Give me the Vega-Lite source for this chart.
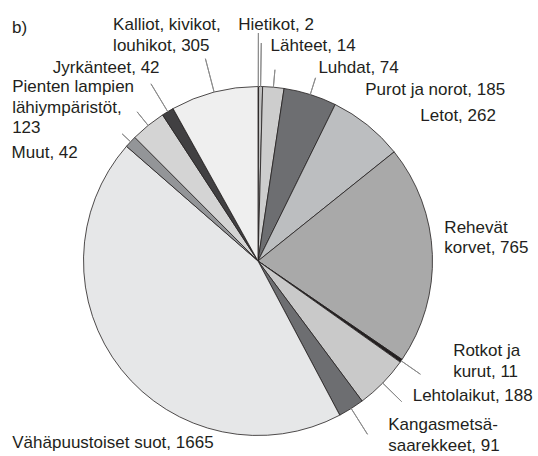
{
  "$schema": "https://vega.github.io/schema/vega-lite/v6.json",
  "width": 516,
  "height": 390,
  "autosize": {"type": "none"},
  "padding": {"left": 0, "top": 66, "right": 22, "bottom": 0},
  "background": "white",
  "title": {"text": "b)", "anchor": "start", "frame": "group", "offset": -21, "dx": 12, "fontSize": 17, "fontWeight": "normal", "font": "Liberation Sans", "color": "#231f20"},
  "config": {"view": {"stroke": null}},
  "data": {"values": [
    {"category": "Hietikot", "value": 2, "label": "Hietikot, 2"},
    {"category": "Lähteet", "value": 14, "label": "Lähteet, 14"},
    {"category": "Luhdat", "value": 74, "label": "Luhdat, 74"},
    {"category": "Purot ja norot", "value": 185, "label": "Purot ja norot, 185"},
    {"category": "Letot", "value": 262, "label": "Letot, 262"},
    {"category": "Rehevät korvet", "value": 765, "label": "Rehevät\nkorvet, 765"},
    {"category": "Rotkot ja kurut", "value": 11, "label": "Rotkot ja\nkurut, 11"},
    {"category": "Lehtolaikut", "value": 188, "label": "Lehtolaikut, 188"},
    {"category": "Kangasmetsäsaarekkeet", "value": 91, "label": "Kangasmetsä-\nsaarekkeet, 91"},
    {"category": "Vähäpuustoiset suot", "value": 1665, "label": "Vähäpuustoiset suot, 1665"},
    {"category": "Muut", "value": 42, "label": "Muut, 42"},
    {"category": "Pienten lampien lähiympäristöt", "value": 123, "label": "Pienten lampien\nlähiympäristöt,\n123"},
    {"category": "Jyrkänteet", "value": 42, "label": "Jyrkänteet, 42"},
    {"category": "Kalliot, kivikot, louhikot", "value": 305, "label": "Kalliot, kivikot,\nlouhikot, 305"}
  ]},
  "transform": [{"window": [{"op": "row_number", "as": "rn"}]}],
  "encoding": {
    "theta": {"field": "value", "type": "quantitative", "stack": true},
    "order": {"field": "rn", "type": "quantitative"},
    "detail": {"field": "category", "type": "nominal"}
  },
  "layer": [
    {
      "mark": {"type": "arc", "outerRadius": 174.5, "stroke": "#231f20", "strokeWidth": 0.8},
      "encoding": {
        "color": {"field": "category", "type": "nominal", "legend": null,
          "scale": {
            "domain": ["Hietikot", "Lähteet", "Luhdat", "Purot ja norot", "Letot", "Rehevät korvet", "Rotkot ja kurut", "Lehtolaikut", "Kangasmetsäsaarekkeet", "Vähäpuustoiset suot", "Muut", "Pienten lampien lähiympäristöt", "Jyrkänteet", "Kalliot, kivikot, louhikot"],
            "range": ["#dcdcdc", "#bfbfbf", "#cdcdcd", "#6d6e71", "#bcbec0", "#a9a9a9", "#231f20", "#c9c9c9", "#6d6e71", "#e6e7e8", "#939598", "#d4d4d4", "#414042", "#efefef"]
          }}
      }
    },
    {
      "mark": {"type": "arc", "innerRadius": 174.5, "padAngle": 3.14, "fill": "white", "fillOpacity": 0, "stroke": "#8c8c8c", "strokeWidth": 1,
        "outerRadius": {"expr": "{'Hietikot': 228, 'Lähteet': 218, 'Luhdat': 192, 'Purot ja norot': 192, 'Letot': 174.5, 'Rehevät korvet': 174.5, 'Rotkot ja kurut': 198, 'Lehtolaikut': 201, 'Kangasmetsäsaarekkeet': 205, 'Vähäpuustoiset suot': 174.5, 'Muut': 186, 'Pienten lampien lähiympäristöt': 192, 'Jyrkänteet': 207, 'Kalliot, kivikot, louhikot': 209}[datum.category]"}}
    },
    {
      "mark": {"type": "text", "radius": 174.5, "align": "left", "baseline": "alphabetic", "font": "Liberation Sans", "fontSize": 17, "lineBreak": "\n", "lineHeight": 20.5, "fill": "#231f20",
        "dx": {"expr": "{'Hietikot': -20, 'Lähteet': 10, 'Luhdat': 45, 'Purot ja norot': 55, 'Letot': 53, 'Rehevät korvet': 12, 'Rotkot ja kurut': 52, 'Lehtolaikut': 30, 'Kangasmetsäsaarekkeet': 37, 'Vähäpuustoiset suot': -109, 'Muut': -119, 'Pienten lampien lähiympäristöt': -136, 'Jyrkänteet': -115, 'Kalliot, kivikot, louhikot': -101}[datum.category]"},
        "dy": {"expr": "{'Hietikot': -56.5, 'Lähteet': -35.5, 'Luhdat': -14, 'Purot ja norot': 0.5, 'Letot': -4, 'Rehevät korvet': -21.5, 'Rotkot ja kurut': -4.5, 'Lehtolaikut': 18, 'Kangasmetsäsaarekkeet': 21.5, 'Vähäpuustoiset suot': 78.5, 'Muut': 16.3, 'Pienten lampien lähiympäristöt': -33.4, 'Jyrkänteet': -38.6, 'Kalliot, kivikot, louhikot': -62}[datum.category]"}},
      "encoding": {"text": {"field": "label"}}
    }
  ]
}
